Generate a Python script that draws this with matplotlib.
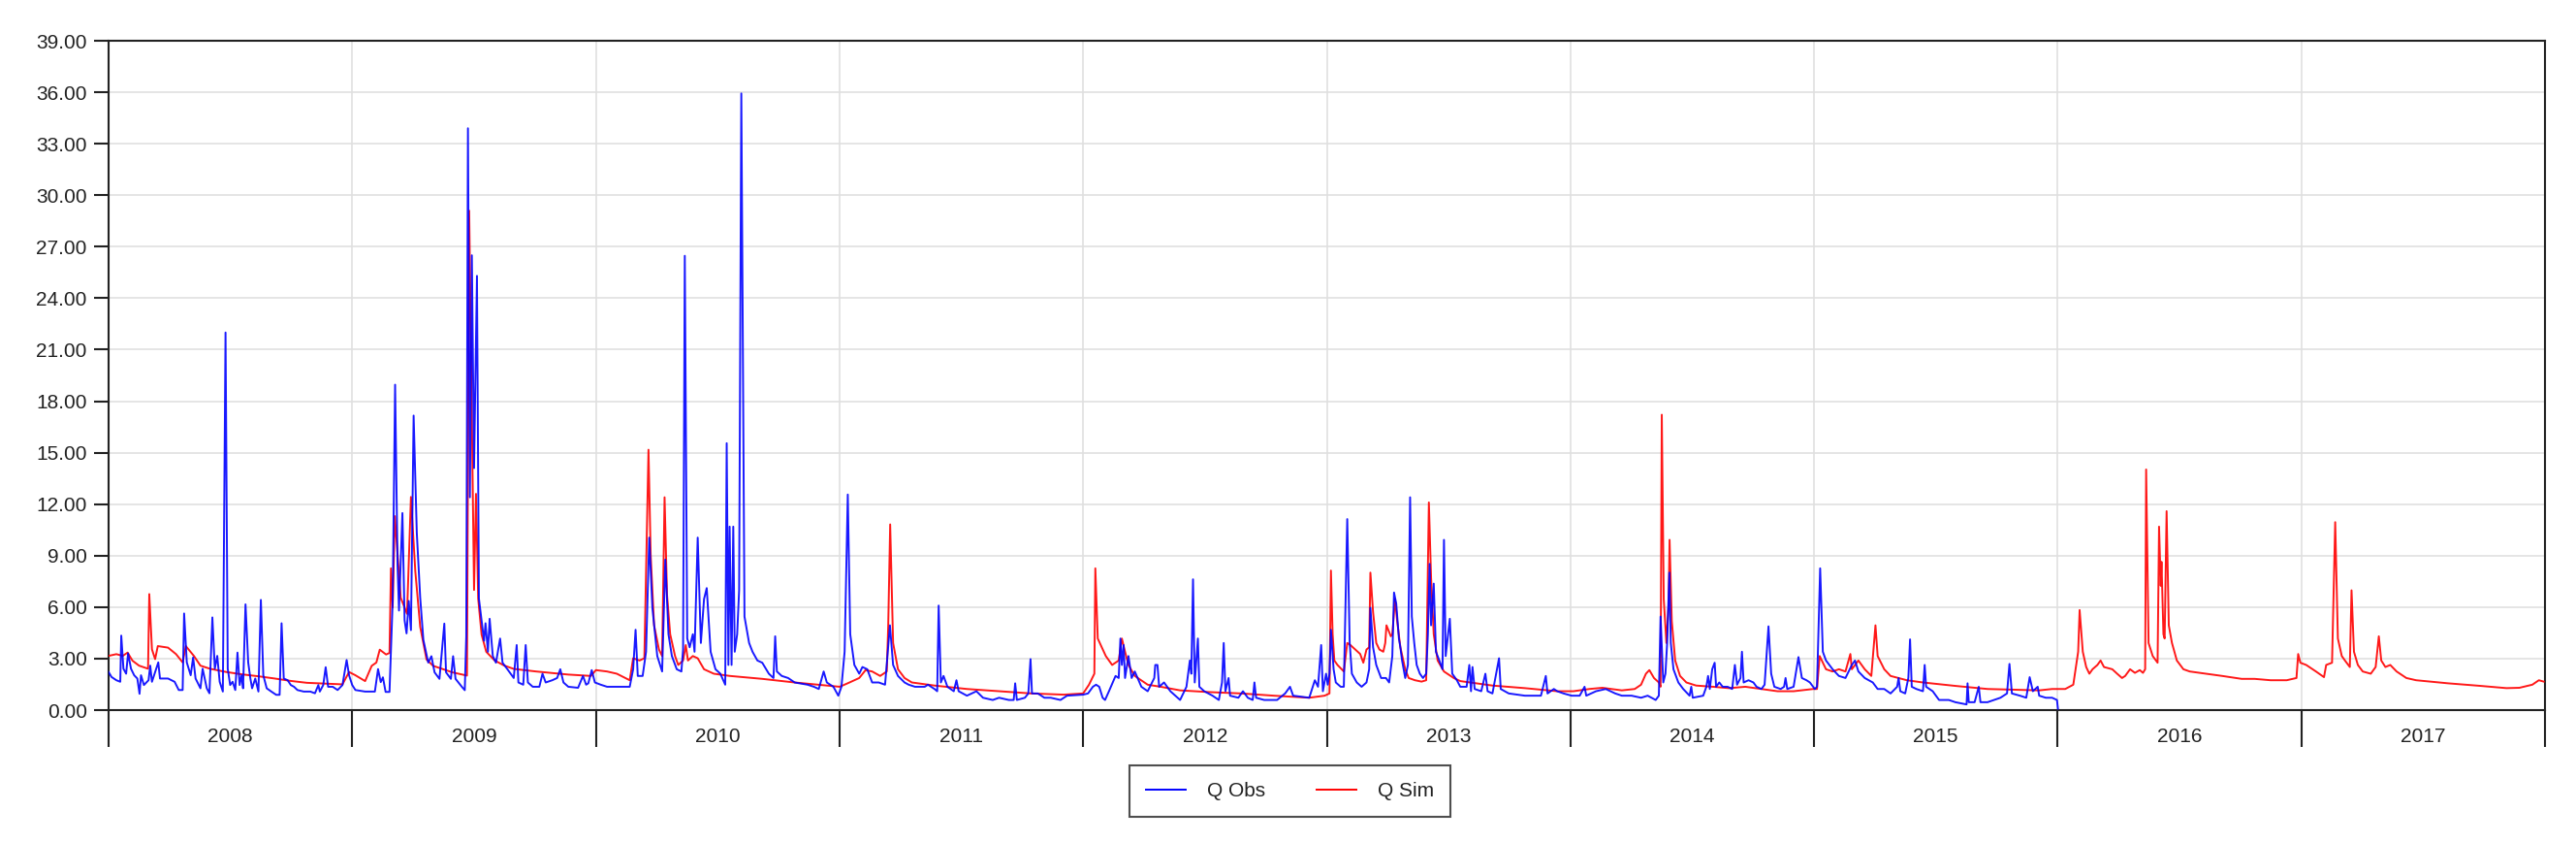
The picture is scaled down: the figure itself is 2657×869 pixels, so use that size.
import matplotlib
matplotlib.use("Agg")
import matplotlib.pyplot as plt
from matplotlib.ticker import FixedLocator, FuncFormatter, NullFormatter

plt.rcParams['font.family'] = ['Liberation Sans', 'DejaVu Sans']

# ---------------- data (time in decimal years, flow values) ----------------
obs_year = [
    2008.000, 2008.012, 2008.032, 2008.048, 2008.052, 2008.061, 2008.072, 2008.080, 2008.092, 2008.105,
    2008.118, 2008.127, 2008.133, 2008.145, 2008.164, 2008.171, 2008.178, 2008.204, 2008.211, 2008.244,
    2008.271, 2008.288, 2008.304, 2008.310, 2008.321, 2008.337, 2008.347, 2008.357, 2008.377, 2008.386,
    2008.403, 2008.414, 2008.426, 2008.436, 2008.446, 2008.456, 2008.469, 2008.480, 2008.489, 2008.499,
    2008.509, 2008.520, 2008.529, 2008.538, 2008.546, 2008.552, 2008.562, 2008.573, 2008.582, 2008.589,
    2008.602, 2008.615, 2008.625, 2008.635, 2008.649, 2008.668, 2008.688, 2008.702, 2008.710, 2008.719,
    2008.735, 2008.748, 2008.761, 2008.775, 2008.801, 2008.828, 2008.847, 2008.861, 2008.867, 2008.881,
    2008.891, 2008.901, 2008.920, 2008.940, 2008.960, 2008.977, 2008.987, 2009.000, 2009.013, 2009.053,
    2009.093, 2009.106, 2009.117, 2009.126, 2009.137, 2009.153, 2009.166, 2009.176, 2009.186, 2009.192,
    2009.206, 2009.215, 2009.223, 2009.232, 2009.241, 2009.252, 2009.265, 2009.279, 2009.292, 2009.312,
    2009.325, 2009.338, 2009.358, 2009.378, 2009.385, 2009.405, 2009.414, 2009.424, 2009.451, 2009.462,
    2009.468, 2009.475, 2009.483, 2009.491, 2009.500, 2009.512, 2009.520, 2009.531, 2009.541, 2009.547,
    2009.557, 2009.564, 2009.577, 2009.590, 2009.607, 2009.617, 2009.637, 2009.663, 2009.675, 2009.682,
    2009.702, 2009.712, 2009.721, 2009.741, 2009.768, 2009.781, 2009.794, 2009.821, 2009.841, 2009.854,
    2009.867, 2009.887, 2009.927, 2009.947, 2009.960, 2009.969, 2009.983, 2009.996, 2010.020, 2010.046,
    2010.086, 2010.139, 2010.153, 2010.163, 2010.172, 2010.192, 2010.206, 2010.219, 2010.232, 2010.252,
    2010.272, 2010.285, 2010.298, 2010.312, 2010.332, 2010.351, 2010.358, 2010.365, 2010.375, 2010.385,
    2010.398, 2010.405, 2010.418, 2010.431, 2010.444, 2010.455, 2010.471, 2010.491, 2010.511, 2010.531,
    2010.537, 2010.544, 2010.549, 2010.557, 2010.564, 2010.570, 2010.580, 2010.588, 2010.597, 2010.610,
    2010.629, 2010.643, 2010.663, 2010.683, 2010.710, 2010.729, 2010.736, 2010.743, 2010.763, 2010.789,
    2010.816, 2010.869, 2010.895, 2010.915, 2010.935, 2010.948, 2010.975, 2010.995, 2011.008, 2011.021,
    2011.034, 2011.044, 2011.061, 2011.081, 2011.094, 2011.114, 2011.134, 2011.161, 2011.187, 2011.207,
    2011.220, 2011.240, 2011.267, 2011.284, 2011.310, 2011.350, 2011.363, 2011.390, 2011.401, 2011.407,
    2011.416, 2011.427, 2011.443, 2011.469, 2011.480, 2011.489, 2011.523, 2011.562, 2011.589, 2011.629,
    2011.655, 2011.695, 2011.715, 2011.721, 2011.728, 2011.761, 2011.775, 2011.784, 2011.790, 2011.814,
    2011.841, 2011.867, 2011.907, 2011.934, 2012.000, 2012.020, 2012.040, 2012.053, 2012.066, 2012.080,
    2012.090, 2012.106, 2012.133, 2012.146, 2012.153, 2012.159, 2012.166, 2012.172, 2012.186, 2012.199,
    2012.212, 2012.239, 2012.265, 2012.292, 2012.296, 2012.305, 2012.312, 2012.332, 2012.358, 2012.398,
    2012.424, 2012.438, 2012.444, 2012.451, 2012.458, 2012.471, 2012.477, 2012.497, 2012.531, 2012.557,
    2012.570, 2012.577, 2012.584, 2012.597, 2012.603, 2012.637, 2012.656, 2012.676, 2012.696, 2012.703,
    2012.710, 2012.743, 2012.796, 2012.829, 2012.849, 2012.862, 2012.928, 2012.951, 2012.964, 2012.977,
    2012.984, 2012.997, 2013.004, 2013.011, 2013.017, 2013.028, 2013.037, 2013.057, 2013.070, 2013.084,
    2013.094, 2013.103, 2013.123, 2013.143, 2013.163, 2013.174, 2013.179, 2013.190, 2013.203, 2013.223,
    2013.243, 2013.256, 2013.269, 2013.276, 2013.285, 2013.296, 2013.302, 2013.309, 2013.322, 2013.333,
    2013.342, 2013.349, 2013.359, 2013.369, 2013.382, 2013.395, 2013.408, 2013.415, 2013.422, 2013.428,
    2013.439, 2013.448, 2013.462, 2013.475, 2013.481, 2013.488, 2013.505, 2013.515, 2013.534, 2013.548,
    2013.574, 2013.585, 2013.592, 2013.598, 2013.607, 2013.634, 2013.651, 2013.660, 2013.680, 2013.707,
    2013.714, 2013.747, 2013.813, 2013.879, 2013.899, 2013.906, 2013.932, 2013.946, 2013.972, 2014.005,
    2014.038, 2014.058, 2014.065, 2014.105, 2014.145, 2014.184, 2014.211, 2014.251, 2014.290, 2014.317,
    2014.350, 2014.363, 2014.370, 2014.381, 2014.390, 2014.397, 2014.406, 2014.412, 2014.423, 2014.443,
    2014.463, 2014.489, 2014.496, 2014.502, 2014.545, 2014.558, 2014.565, 2014.572, 2014.582, 2014.592,
    2014.598, 2014.611, 2014.625, 2014.645, 2014.664, 2014.675, 2014.684, 2014.698, 2014.704, 2014.711,
    2014.731, 2014.751, 2014.764, 2014.784, 2014.797, 2014.813, 2014.824, 2014.837, 2014.863, 2014.877,
    2014.883, 2014.890, 2014.916, 2014.936, 2014.950, 2014.969, 2014.983, 2015.003, 2015.012, 2015.025,
    2015.036, 2015.049, 2015.076, 2015.102, 2015.129, 2015.155, 2015.168, 2015.182, 2015.208, 2015.241,
    2015.261, 2015.288, 2015.314, 2015.341, 2015.347, 2015.354, 2015.374, 2015.387, 2015.394, 2015.401,
    2015.420, 2015.447, 2015.454, 2015.460, 2015.487, 2015.513, 2015.553, 2015.580, 2015.626, 2015.630,
    2015.635, 2015.659, 2015.676, 2015.683, 2015.712, 2015.765, 2015.792, 2015.802, 2015.812, 2015.845,
    2015.871, 2015.885, 2015.898, 2015.918, 2015.924, 2015.951, 2015.977, 2015.997, 2016.001,
]
obs_flow = [
    2.22, 1.93, 1.74, 1.65, 4.34, 2.41, 2.12, 3.31, 2.41, 2.03,
    1.84, 0.95, 2.03, 1.46, 1.74, 2.59, 1.65, 2.78, 1.84, 1.84,
    1.65, 1.17, 1.17, 5.63, 2.78, 2.03, 3.07, 1.84, 1.27, 2.41,
    1.27, 0.98, 5.40, 2.41, 3.16, 1.65, 1.08, 22.00, 2.41, 1.46,
    1.65, 1.17, 3.35, 1.46, 2.03, 1.27, 6.16, 2.78, 1.84, 1.27,
    1.84, 1.08, 6.42, 2.03, 1.27, 1.08, 0.89, 0.89, 5.06, 1.84,
    1.74, 1.46, 1.36, 1.17, 1.08, 1.08, 0.98, 1.46, 1.08, 1.46,
    2.50, 1.36, 1.36, 1.17, 1.46, 2.92, 2.03, 1.46, 1.17, 1.08,
    1.08, 2.39, 1.63, 1.91, 1.06, 1.06, 6.36, 18.96, 8.45, 5.80,
    11.48, 5.23, 4.47, 6.36, 4.66, 17.16, 10.34, 6.55, 4.09, 2.77,
    3.14, 2.20, 1.82, 5.04, 2.20, 1.82, 3.14, 1.82, 1.34, 1.16,
    4.30, 33.90, 12.40, 26.50, 14.10, 25.30, 6.50, 5.19, 4.04, 5.06,
    3.40, 5.32, 3.15, 2.76, 4.17, 2.76, 2.38, 1.87, 3.79, 1.61,
    1.48, 3.79, 1.61, 1.36, 1.36, 2.12, 1.61, 1.74, 1.87, 2.38,
    1.61, 1.36, 1.30, 1.99, 1.48, 1.56, 2.33, 1.61, 1.48, 1.36,
    1.36, 1.36, 2.38, 4.68, 1.99, 1.99, 3.40, 10.05, 5.96, 3.15,
    2.25, 8.77, 4.42, 3.15, 2.38, 2.25, 3.53, 26.47, 4.17, 3.66,
    4.42, 3.40, 10.05, 3.91, 6.47, 7.11, 3.40, 2.38, 2.12, 1.48,
    15.55, 2.63, 10.69, 2.63, 10.69, 3.40, 4.42, 6.98, 35.93, 5.45,
    3.91, 3.40, 2.89, 2.76, 2.12, 1.87, 4.30, 2.25, 1.99, 1.87,
    1.61, 1.48, 1.36, 1.23, 2.25, 1.61, 1.36, 0.84, 1.36, 3.40,
    12.56, 4.42, 2.63, 2.12, 2.51, 2.38, 1.61, 1.61, 1.48, 4.94,
    2.63, 1.99, 1.61, 1.48, 1.36, 1.36, 1.48, 1.23, 1.10, 6.09,
    1.61, 1.99, 1.36, 1.10, 1.74, 1.10, 0.84, 1.10, 0.72, 0.59,
    0.72, 0.59, 0.59, 1.56, 0.59, 0.72, 0.97, 2.97, 0.97, 0.97,
    0.72, 0.72, 0.59, 0.84, 0.90, 0.97, 1.36, 1.48, 1.36, 0.72,
    0.59, 1.10, 1.99, 1.87, 4.17, 2.63, 3.79, 1.87, 3.15, 1.87,
    2.25, 1.36, 1.10, 1.87, 2.63, 2.63, 1.36, 1.61, 1.10, 0.59,
    1.36, 2.89, 2.12, 7.62, 1.61, 4.17, 1.36, 1.10, 0.84, 0.59,
    1.61, 3.91, 1.10, 1.87, 0.84, 0.72, 1.10, 0.72, 0.59, 1.61,
    0.72, 0.59, 0.59, 0.97, 1.36, 0.84, 0.72, 1.74, 1.36, 3.79,
    1.10, 2.12, 1.48, 2.12, 4.68, 2.38, 1.61, 1.36, 1.36, 11.13,
    3.91, 2.12, 1.61, 1.36, 1.61, 2.38, 5.96, 3.66, 2.63, 1.87,
    1.87, 1.61, 3.15, 6.85, 6.21, 4.17, 3.66, 2.89, 1.87, 2.63,
    12.40, 5.45, 3.91, 2.63, 2.12, 1.87, 2.12, 4.42, 8.52, 4.94,
    7.37, 3.40, 2.89, 2.38, 9.92, 3.15, 5.32, 2.12, 1.74, 1.36,
    1.36, 2.63, 1.10, 2.51, 1.23, 1.10, 2.12, 1.10, 0.97, 3.02,
    1.23, 0.97, 0.84, 0.84, 1.99, 0.97, 1.23, 1.10, 0.97, 0.84,
    0.84, 1.36, 0.84, 1.10, 1.23, 0.97, 0.84, 0.84, 0.72, 0.84,
    0.59, 0.84, 5.45, 1.61, 2.12, 3.91, 8.01, 3.91, 2.38, 1.61,
    1.23, 0.84, 1.36, 0.72, 0.84, 1.36, 1.99, 1.23, 2.38, 2.76,
    1.36, 1.61, 1.36, 1.36, 1.23, 2.63, 1.48, 1.87, 3.40, 1.61,
    1.74, 1.61, 1.36, 1.23, 1.48, 4.88, 2.12, 1.36, 1.23, 1.36,
    1.87, 1.23, 1.36, 3.09, 1.87, 1.74, 1.61, 1.23, 1.36, 8.26,
    3.40, 2.89, 2.38, 1.99, 1.87, 2.63, 2.89, 2.25, 1.87, 1.61,
    1.23, 1.23, 0.97, 1.36, 1.87, 1.10, 0.97, 1.87, 4.12, 1.36,
    1.23, 1.10, 2.63, 1.36, 1.10, 0.59, 0.59, 0.46, 0.33, 1.56,
    0.46, 0.46, 1.36, 0.46, 0.46, 0.72, 0.97, 2.69, 0.97, 0.84,
    0.72, 1.92, 1.10, 1.36, 0.84, 0.72, 0.72, 0.59, 0.08,
]

sim_year = [
    2008.000, 2008.032, 2008.058, 2008.078, 2008.098, 2008.125, 2008.162, 2008.167, 2008.178, 2008.191,
    2008.202, 2008.244, 2008.277, 2008.304, 2008.317, 2008.350, 2008.377, 2008.416, 2008.483, 2008.549,
    2008.615, 2008.682, 2008.748, 2008.814, 2008.881, 2008.960, 2008.987, 2009.013, 2009.053, 2009.080,
    2009.099, 2009.113, 2009.139, 2009.153, 2009.159, 2009.166, 2009.175, 2009.199, 2009.225, 2009.241,
    2009.259, 2009.279, 2009.305, 2009.332, 2009.411, 2009.471, 2009.480, 2009.500, 2009.508, 2009.517,
    2009.531, 2009.550, 2009.584, 2009.623, 2009.663, 2009.755, 2009.887, 2009.980, 2010.000, 2010.046,
    2010.086, 2010.139, 2010.153, 2010.179, 2010.199, 2010.216, 2010.225, 2010.239, 2010.259, 2010.272,
    2010.282, 2010.292, 2010.305, 2010.325, 2010.338, 2010.358, 2010.369, 2010.378, 2010.398, 2010.418,
    2010.444, 2010.484, 2010.550, 2010.683, 2010.816, 2010.948, 2011.001, 2011.041, 2011.081, 2011.107,
    2011.134, 2011.167, 2011.194, 2011.200, 2011.208, 2011.220, 2011.240, 2011.267, 2011.297, 2011.390,
    2011.523, 2011.655, 2011.788, 2011.920, 2012.000, 2012.024, 2012.046, 2012.050, 2012.060, 2012.093,
    2012.119, 2012.146, 2012.159, 2012.172, 2012.186, 2012.212, 2012.265, 2012.318, 2012.398, 2012.517,
    2012.650, 2012.782, 2012.928, 2012.991, 2013.011, 2013.017, 2013.024, 2013.031, 2013.044, 2013.070,
    2013.084, 2013.097, 2013.117, 2013.137, 2013.150, 2013.163, 2013.174, 2013.179, 2013.190, 2013.203,
    2013.216, 2013.232, 2013.240, 2013.245, 2013.263, 2013.269, 2013.280, 2013.289, 2013.302, 2013.322,
    2013.336, 2013.362, 2013.389, 2013.408, 2013.419, 2013.428, 2013.439, 2013.455, 2013.481, 2013.521,
    2013.548, 2013.680, 2013.813, 2013.946, 2014.012, 2014.078, 2014.131, 2014.211, 2014.264, 2014.290,
    2014.310, 2014.324, 2014.343, 2014.363, 2014.370, 2014.375, 2014.383, 2014.394, 2014.403, 2014.407,
    2014.416, 2014.430, 2014.450, 2014.476, 2014.516, 2014.585, 2014.651, 2014.718, 2014.784, 2014.850,
    2014.916, 2014.996, 2015.012, 2015.023, 2015.049, 2015.076, 2015.102, 2015.129, 2015.149, 2015.155,
    2015.168, 2015.182, 2015.208, 2015.235, 2015.252, 2015.261, 2015.288, 2015.314, 2015.381, 2015.447,
    2015.580, 2015.712, 2015.845, 2015.924, 2015.977, 2016.031, 2016.064, 2016.084, 2016.090, 2016.103,
    2016.117, 2016.130, 2016.143, 2016.163, 2016.176, 2016.190, 2016.224, 2016.244, 2016.264, 2016.277,
    2016.297, 2016.317, 2016.337, 2016.350, 2016.359, 2016.363, 2016.373, 2016.390, 2016.410, 2016.416,
    2016.423, 2016.426, 2016.434, 2016.439, 2016.447, 2016.456, 2016.469, 2016.489, 2016.516, 2016.542,
    2016.609, 2016.675, 2016.755, 2016.808, 2016.874, 2016.940, 2016.980, 2016.987, 2016.996, 2017.020,
    2017.060, 2017.093, 2017.102, 2017.126, 2017.139, 2017.150, 2017.166, 2017.179, 2017.199, 2017.206,
    2017.216, 2017.232, 2017.252, 2017.285, 2017.305, 2017.318, 2017.328, 2017.345, 2017.365, 2017.391,
    2017.431, 2017.471, 2017.603, 2017.736, 2017.842, 2017.895, 2017.948, 2017.975, 2017.995,
]
sim_flow = [
    3.16, 3.26, 3.16, 3.35, 2.88, 2.59, 2.41, 6.76, 3.54, 2.97,
    3.73, 3.64, 3.26, 2.78, 3.73, 3.16, 2.59, 2.41, 2.22, 2.08,
    1.97, 1.84, 1.70, 1.59, 1.55, 1.50, 2.22, 2.03, 1.69, 2.58,
    2.77, 3.52, 3.24, 3.33, 8.26, 5.98, 11.30, 6.55, 5.61, 12.42,
    8.07, 4.85, 2.95, 2.58, 2.20, 2.01, 29.10, 7.00, 12.60, 6.50,
    4.40, 3.40, 2.90, 2.60, 2.40, 2.25, 2.07, 1.99, 2.33, 2.25,
    2.12, 1.74, 3.02, 2.89, 3.02, 15.17, 9.03, 4.94, 3.53, 3.15,
    12.40, 6.73, 4.42, 3.15, 2.63, 2.89, 3.79, 2.89, 3.15, 3.02,
    2.38, 2.12, 1.99, 1.82, 1.61, 1.43, 1.36, 1.61, 1.87, 2.33,
    2.25, 1.99, 2.25, 4.94, 10.82, 3.91, 2.38, 1.87, 1.61, 1.43,
    1.23, 1.10, 0.97, 0.90, 0.97, 1.48, 2.12, 8.26, 4.17, 3.15,
    2.63, 2.89, 4.17, 3.40, 2.63, 1.99, 1.48, 1.36, 1.15, 1.05,
    0.97, 0.84, 0.72, 0.84, 0.97, 8.13, 4.42, 2.89, 2.63, 2.25,
    3.91, 3.79, 3.53, 3.27, 2.76, 3.53, 3.66, 8.01, 5.70, 3.91,
    3.53, 3.40, 3.91, 4.94, 4.30, 4.42, 6.47, 5.19, 3.66, 2.38,
    1.87, 1.74, 1.66, 1.74, 12.10, 7.75, 4.42, 2.89, 2.25, 1.87,
    1.69, 1.43, 1.28, 1.10, 1.10, 1.23, 1.30, 1.15, 1.23, 1.48,
    2.12, 2.33, 1.87, 1.61, 1.36, 17.21, 6.47, 3.91, 6.21, 9.92,
    5.19, 2.89, 1.99, 1.61, 1.43, 1.36, 1.28, 1.36, 1.23, 1.10,
    1.10, 1.23, 1.23, 3.15, 2.38, 2.25, 2.38, 2.25, 3.27, 2.38,
    2.63, 2.89, 2.38, 1.99, 4.94, 3.15, 2.38, 1.99, 1.74, 1.61,
    1.41, 1.23, 1.18, 1.15, 1.23, 1.23, 1.48, 3.40, 5.83, 3.40,
    2.51, 2.12, 2.38, 2.63, 2.89, 2.51, 2.38, 2.12, 1.87, 1.99,
    2.38, 2.17, 2.33, 2.17, 2.38, 14.02, 3.91, 3.15, 2.76, 10.69,
    7.24, 8.64, 4.42, 4.17, 11.59, 4.94, 3.91, 2.89, 2.38, 2.25,
    2.12, 1.99, 1.82, 1.82, 1.74, 1.74, 1.87, 3.27, 2.76, 2.63,
    2.25, 1.92, 2.63, 2.76, 10.95, 4.17, 3.15, 2.89, 2.51, 6.98,
    3.40, 2.63, 2.25, 2.12, 2.51, 4.30, 2.89, 2.51, 2.63, 2.25,
    1.87, 1.74, 1.56, 1.41, 1.28, 1.30, 1.48, 1.74, 1.66,
]

year_edges = list(range(2008, 2019))
year_labels = [str(y) for y in range(2008, 2018)]
y_ticks = [0, 3, 6, 9, 12, 15, 18, 21, 24, 27, 30, 33, 36, 39]
series_names = ["Q Obs", "Q Sim"]

# ---------------- figure ----------------
W, H = 2657, 869
fig = plt.figure(figsize=(W / 100, H / 100), dpi=100)
ax = fig.add_axes([112 / W, 1 - 732 / H, (2625 - 112) / W, (732 - 42) / H])

ax.plot(sim_year, sim_flow, color="#ff0000", lw=1.4, alpha=0.9, label=series_names[1], zorder=3)
ax.plot(obs_year, obs_flow, color="#0000ff", lw=1.4, alpha=0.9, label=series_names[0], zorder=4)

ax.set_xlim(year_edges[0], year_edges[-1])
ax.set_ylim(y_ticks[0], y_ticks[-1])

text_color = "#222222"
ax.xaxis.set_major_locator(FixedLocator(year_edges))
ax.xaxis.set_major_formatter(NullFormatter())
centers = [y + 0.5 for y in year_edges[:-1]]
ax.xaxis.set_minor_locator(FixedLocator(centers))
ax.xaxis.set_minor_formatter(FuncFormatter(lambda v, p: year_labels[int(round(v - 0.5)) - year_edges[0]]))
ax.tick_params(axis="x", which="major", direction="out", length=27, width=1.5, color="#222222")
ax.tick_params(axis="x", which="minor", length=0, pad=13, labelsize=15, labelcolor=text_color)

ax.yaxis.set_major_locator(FixedLocator(y_ticks))
ax.yaxis.set_major_formatter(FuncFormatter(lambda v, p: f"{v:.2f}"))
ax.tick_params(axis="y", which="major", direction="out", length=11, width=1.5, pad=5,
               labelsize=15, labelcolor=text_color, color="#222222")

ax.set_axisbelow(True)
ax.grid(True, which="major", axis="both", color="#e0e0e0", lw=1.2)

for s in ax.spines.values():
    s.set_color("#222222")
    s.set_linewidth(1.5)

handles, labels = ax.get_legend_handles_labels()
order = [labels.index(n) for n in series_names]
leg = fig.legend([handles[i] for i in order], [labels[i] for i in order],
                 loc="center", bbox_to_anchor=(1330.5 / W, 1 - 815.5 / H),
                 ncol=2, fontsize=15, frameon=True, fancybox=False,
                 handlelength=2.0, handletextpad=1.05, columnspacing=2.5,
                 borderpad=0.8)
leg.get_frame().set_edgecolor("#222222")
leg.get_frame().set_linewidth(1.5)
for t in leg.get_texts():
    t.set_color(text_color)
for lh in leg.get_lines():
    lh.set_alpha(1.0)

fig.savefig("out.png", dpi=100)
